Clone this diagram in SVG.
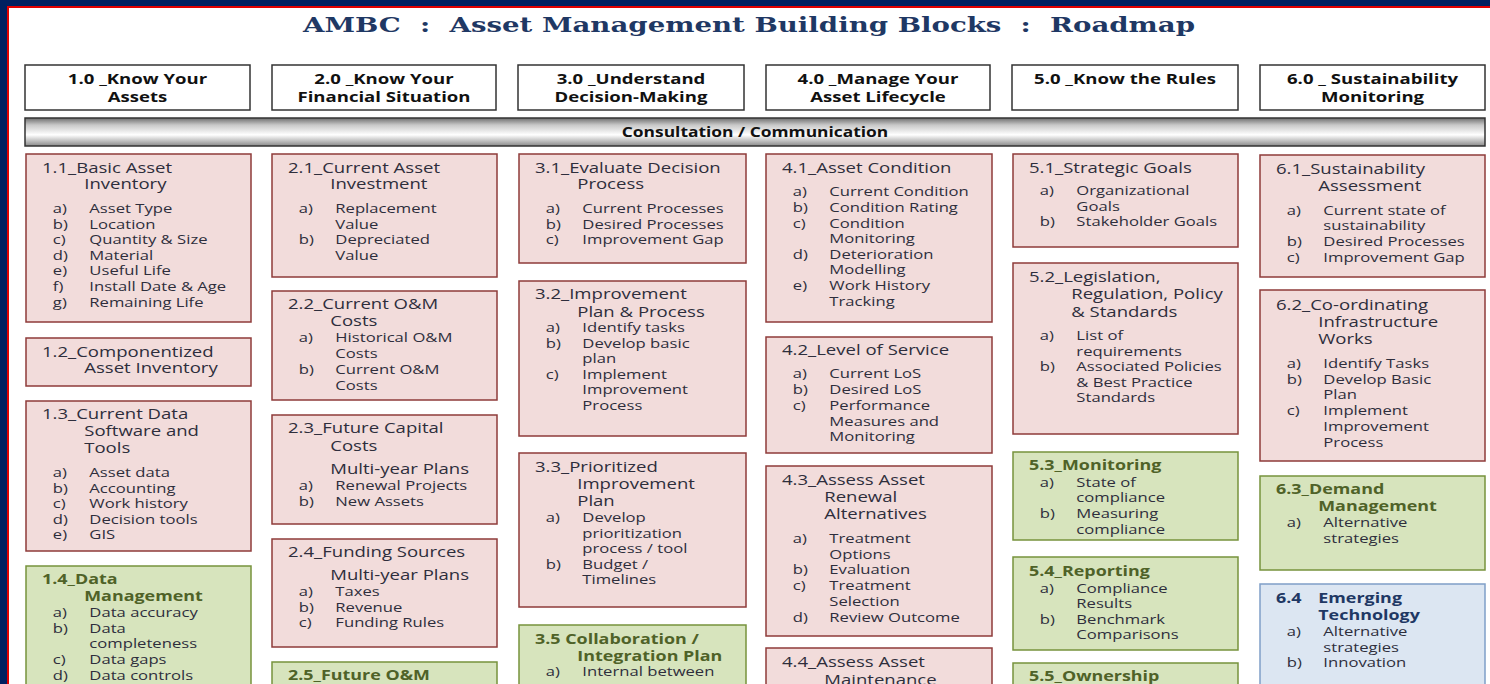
<svg xmlns="http://www.w3.org/2000/svg" width="1490" height="684" viewBox="0 0 1490 684">
<defs>
<linearGradient id="bar" x1="0" y1="0" x2="0" y2="1">
<stop offset="0" stop-color="#6e6e6e"/>
<stop offset="0.25" stop-color="#c8c8c8"/>
<stop offset="0.6" stop-color="#ffffff"/>
<stop offset="1" stop-color="#8a8a8a"/>
</linearGradient>
</defs>
<style>
text{font-family:'Open Sans','Liberation Sans',sans-serif;fill:#2e2e3c}
.title{font-family:'DejaVu Serif','Liberation Serif',serif;font-weight:700;font-size:20px;fill:#1F3864}
.h{font-size:14.5px;font-weight:700;fill:#111;text-anchor:middle}
.ti{font-size:14.5px}
.it{font-size:13px}
.gt{font-size:14px;font-weight:700;fill:#4F6228}
.bt{font-size:14px;font-weight:700;fill:#1F3864}
.pk{fill:#F2DCDB;stroke:#8E3B3A;stroke-width:1.5}
.gr{fill:#D7E4BD;stroke:#77933C;stroke-width:1.5}
.bl{fill:#DCE6F2;stroke:#7F9FC8;stroke-width:1.5}
.hd{fill:#fff;stroke:#333;stroke-width:1.5}
</style>
<rect x="0" y="0" width="1490" height="684" fill="#fff"/>
<rect x="0" y="0" width="1490" height="6" fill="#002060"/>
<rect x="0" y="0" width="7" height="684" fill="#002060"/>
<path d="M8 684V7H1490" fill="none" stroke="#e00000" stroke-width="2"/>
<text class="title" x="303" y="32" textLength="892" lengthAdjust="spacingAndGlyphs" xml:space="preserve">AMBC  :  Asset Management Building Blocks  :  Roadmap</text>

<g id="h1"><rect class="hd" x="25" y="65" width="225" height="45"/><g transform="translate(137.5 0) scale(1.28 1)"><text class="h" x="0" y="84">1.0 _Know Your</text><text class="h" x="0" y="102">Assets</text></g></g>
<g id="h2"><rect class="hd" x="272" y="65" width="224" height="45"/><g transform="translate(384 0) scale(1.28 1)"><text class="h" x="0" y="84">2.0 _Know Your</text><text class="h" x="0" y="102">Financial Situation</text></g></g>
<g id="h3"><rect class="hd" x="518" y="65" width="226" height="45"/><g transform="translate(631 0) scale(1.28 1)"><text class="h" x="0" y="84">3.0 _Understand</text><text class="h" x="0" y="102">Decision-Making</text></g></g>
<g id="h4"><rect class="hd" x="766" y="65" width="224" height="45"/><g transform="translate(878 0) scale(1.28 1)"><text class="h" x="0" y="84">4.0 _Manage Your</text><text class="h" x="0" y="102">Asset Lifecycle</text></g></g>
<g id="h5"><rect class="hd" x="1012" y="65" width="226" height="45"/><g transform="translate(1125 0) scale(1.28 1)"><text class="h" x="0" y="84">5.0 _Know the Rules</text></g></g>
<g id="h6"><rect class="hd" x="1260" y="65" width="225" height="45"/><g transform="translate(1372.5 0) scale(1.28 1)"><text class="h" x="0" y="84">6.0 _ Sustainability</text><text class="h" x="0" y="102">Monitoring</text></g></g>

<g id="consult"><rect x="25" y="118" width="1460" height="28" fill="url(#bar)" stroke="#333" stroke-width="1.5"/><g transform="translate(755 0) scale(1.2 1)"><text class="h" x="0" y="137">Consultation / Communication</text></g></g>

<g id="n11"><rect class="pk" x="26" y="154" width="225" height="168"/><g transform="translate(26 0) scale(1.28 1)">
<text class="ti" x="12.5" y="173">1.1_Basic Asset</text><text class="ti" x="45.5" y="189">Inventory</text>
<text class="it" y="213"><tspan x="21">a)</tspan><tspan x="49.5">Asset Type</tspan></text>
<text class="it" y="229"><tspan x="21">b)</tspan><tspan x="49.5">Location</tspan></text>
<text class="it" y="244"><tspan x="21">c)</tspan><tspan x="49.5">Quantity &amp; Size</tspan></text>
<text class="it" y="260"><tspan x="21">d)</tspan><tspan x="49.5">Material</tspan></text>
<text class="it" y="275"><tspan x="21">e)</tspan><tspan x="49.5">Useful Life</tspan></text>
<text class="it" y="291"><tspan x="21">f)</tspan><tspan x="49.5">Install Date &amp; Age</tspan></text>
<text class="it" y="307"><tspan x="21">g)</tspan><tspan x="49.5">Remaining Life</tspan></text>
</g></g>
<g id="n12"><rect class="pk" x="26" y="338" width="225" height="48"/><g transform="translate(26 0) scale(1.28 1)">
<text class="ti" x="12.5" y="357">1.2_Componentized</text><text class="ti" x="45.5" y="373">Asset Inventory</text>
</g></g>
<g id="n13"><rect class="pk" x="26" y="401" width="225" height="150"/><g transform="translate(26 0) scale(1.28 1)">
<text class="ti" x="12.5" y="419">1.3_Current Data</text><text class="ti" x="45.5" y="436">Software and</text><text class="ti" x="45.5" y="453">Tools</text>
<text class="it" y="477"><tspan x="21">a)</tspan><tspan x="49.5">Asset data</tspan></text>
<text class="it" y="493"><tspan x="21">b)</tspan><tspan x="49.5">Accounting</tspan></text>
<text class="it" y="508"><tspan x="21">c)</tspan><tspan x="49.5">Work history</tspan></text>
<text class="it" y="524"><tspan x="21">d)</tspan><tspan x="49.5">Decision tools</tspan></text>
<text class="it" y="539"><tspan x="21">e)</tspan><tspan x="49.5">GIS</tspan></text>
</g></g>
<g id="n14"><rect class="gr" x="26" y="566" width="225" height="130"/><g transform="translate(26 0) scale(1.28 1)">
<text class="gt" x="12.5" y="584">1.4_Data</text><text class="gt" x="45.5" y="601">Management</text>
<text class="it" y="617"><tspan x="21">a)</tspan><tspan x="49.5">Data accuracy</tspan></text>
<text class="it" y="633"><tspan x="21">b)</tspan><tspan x="49.5">Data</tspan></text>
<text class="it" x="49.5" y="648">completeness</text>
<text class="it" y="664"><tspan x="21">c)</tspan><tspan x="49.5">Data gaps</tspan></text>
<text class="it" y="680"><tspan x="21">d)</tspan><tspan x="49.5">Data controls</tspan></text>
</g></g>

<g id="n21"><rect class="pk" x="272" y="154" width="225" height="123"/><g transform="translate(272 0) scale(1.28 1)">
<text class="ti" x="12.5" y="173">2.1_Current Asset</text><text class="ti" x="45.5" y="189">Investment</text>
<text class="it" y="213"><tspan x="21">a)</tspan><tspan x="49.5">Replacement</tspan></text>
<text class="it" x="49.5" y="229">Value</text>
<text class="it" y="244"><tspan x="21">b)</tspan><tspan x="49.5">Depreciated</tspan></text>
<text class="it" x="49.5" y="260">Value</text>
</g></g>
<g id="n22"><rect class="pk" x="272" y="291" width="225" height="109"/><g transform="translate(272 0) scale(1.28 1)">
<text class="ti" x="12.5" y="309">2.2_Current O&amp;M</text><text class="ti" x="45.5" y="326">Costs</text>
<text class="it" y="342"><tspan x="21">a)</tspan><tspan x="49.5">Historical O&amp;M</tspan></text>
<text class="it" x="49.5" y="358">Costs</text>
<text class="it" y="374"><tspan x="21">b)</tspan><tspan x="49.5">Current O&amp;M</tspan></text>
<text class="it" x="49.5" y="390">Costs</text>
</g></g>
<g id="n23"><rect class="pk" x="272" y="415" width="225" height="109"/><g transform="translate(272 0) scale(1.28 1)">
<text class="ti" x="12.5" y="433">2.3_Future Capital</text><text class="ti" x="45.5" y="451">Costs</text>
<text class="ti" x="45.5" y="474">Multi-year Plans</text>
<text class="it" y="490"><tspan x="21">a)</tspan><tspan x="49.5">Renewal Projects</tspan></text>
<text class="it" y="506"><tspan x="21">b)</tspan><tspan x="49.5">New Assets</tspan></text>
</g></g>
<g id="n24"><rect class="pk" x="272" y="539" width="225" height="108"/><g transform="translate(272 0) scale(1.28 1)">
<text class="ti" x="12.5" y="557">2.4_Funding Sources</text>
<text class="ti" x="45.5" y="580">Multi-year Plans</text>
<text class="it" y="596"><tspan x="21">a)</tspan><tspan x="49.5">Taxes</tspan></text>
<text class="it" y="612"><tspan x="21">b)</tspan><tspan x="49.5">Revenue</tspan></text>
<text class="it" y="627"><tspan x="21">c)</tspan><tspan x="49.5">Funding Rules</tspan></text>
</g></g>
<g id="n25"><rect class="gr" x="272" y="662" width="225" height="40"/><g transform="translate(272 0) scale(1.28 1)">
<text class="gt" x="12.5" y="680">2.5_Future O&amp;M</text>
</g></g>

<g id="n31"><rect class="pk" x="519" y="154" width="227" height="109"/><g transform="translate(519 0) scale(1.28 1)">
<text class="ti" x="12.5" y="173">3.1_Evaluate Decision</text><text class="ti" x="45.5" y="189">Process</text>
<text class="it" y="213"><tspan x="21">a)</tspan><tspan x="49.5">Current Processes</tspan></text>
<text class="it" y="229"><tspan x="21">b)</tspan><tspan x="49.5">Desired Processes</tspan></text>
<text class="it" y="244"><tspan x="21">c)</tspan><tspan x="49.5">Improvement Gap</tspan></text>
</g></g>
<g id="n32"><rect class="pk" x="519" y="281" width="227" height="155"/><g transform="translate(519 0) scale(1.28 1)">
<text class="ti" x="12.5" y="299">3.2_Improvement</text><text class="ti" x="45.5" y="317">Plan &amp; Process</text>
<text class="it" y="332"><tspan x="21">a)</tspan><tspan x="49.5">Identify tasks</tspan></text>
<text class="it" y="348"><tspan x="21">b)</tspan><tspan x="49.5">Develop basic</tspan></text>
<text class="it" x="49.5" y="363">plan</text>
<text class="it" y="379"><tspan x="21">c)</tspan><tspan x="49.5">Implement</tspan></text>
<text class="it" x="49.5" y="394">Improvement</text>
<text class="it" x="49.5" y="410">Process</text>
</g></g>
<g id="n33"><rect class="pk" x="519" y="453" width="227" height="154"/><g transform="translate(519 0) scale(1.28 1)">
<text class="ti" x="12.5" y="472">3.3_Prioritized</text><text class="ti" x="45.5" y="489">Improvement</text><text class="ti" x="45.5" y="506">Plan</text>
<text class="it" y="522"><tspan x="21">a)</tspan><tspan x="49.5">Develop</tspan></text>
<text class="it" x="49.5" y="538">prioritization</text>
<text class="it" x="49.5" y="553">process / tool</text>
<text class="it" y="569"><tspan x="21">b)</tspan><tspan x="49.5">Budget /</tspan></text>
<text class="it" x="49.5" y="584">Timelines</text>
</g></g>
<g id="n35"><rect class="gr" x="519" y="625" width="227" height="70"/><g transform="translate(519 0) scale(1.28 1)">
<text class="gt" x="12.5" y="644">3.5 Collaboration /</text><text class="gt" x="45.5" y="661">Integration Plan</text>
<text class="it" y="676"><tspan x="21">a)</tspan><tspan x="49.5">Internal between</tspan></text>
</g></g>

<g id="n41"><rect class="pk" x="766" y="154" width="226" height="168"/><g transform="translate(766 0) scale(1.28 1)">
<text class="ti" x="12.5" y="173">4.1_Asset Condition</text>
<text class="it" y="196"><tspan x="21">a)</tspan><tspan x="49.5">Current Condition</tspan></text>
<text class="it" y="212"><tspan x="21">b)</tspan><tspan x="49.5">Condition Rating</tspan></text>
<text class="it" y="228"><tspan x="21">c)</tspan><tspan x="49.5">Condition</tspan></text>
<text class="it" x="49.5" y="243">Monitoring</text>
<text class="it" y="259"><tspan x="21">d)</tspan><tspan x="49.5">Deterioration</tspan></text>
<text class="it" x="49.5" y="274">Modelling</text>
<text class="it" y="290"><tspan x="21">e)</tspan><tspan x="49.5">Work History</tspan></text>
<text class="it" x="49.5" y="306">Tracking</text>
</g></g>
<g id="n42"><rect class="pk" x="766" y="337" width="226" height="116"/><g transform="translate(766 0) scale(1.28 1)">
<text class="ti" x="12.5" y="355">4.2_Level of Service</text>
<text class="it" y="378"><tspan x="21">a)</tspan><tspan x="49.5">Current LoS</tspan></text>
<text class="it" y="394"><tspan x="21">b)</tspan><tspan x="49.5">Desired LoS</tspan></text>
<text class="it" y="410"><tspan x="21">c)</tspan><tspan x="49.5">Performance</tspan></text>
<text class="it" x="49.5" y="426">Measures and</text>
<text class="it" x="49.5" y="441">Monitoring</text>
</g></g>
<g id="n43"><rect class="pk" x="766" y="466" width="226" height="170"/><g transform="translate(766 0) scale(1.28 1)">
<text class="ti" x="12.5" y="485">4.3_Assess Asset</text><text class="ti" x="45.5" y="502">Renewal</text><text class="ti" x="45.5" y="519">Alternatives</text>
<text class="it" y="543"><tspan x="21">a)</tspan><tspan x="49.5">Treatment</tspan></text>
<text class="it" x="49.5" y="559">Options</text>
<text class="it" y="574"><tspan x="21">b)</tspan><tspan x="49.5">Evaluation</tspan></text>
<text class="it" y="590"><tspan x="21">c)</tspan><tspan x="49.5">Treatment</tspan></text>
<text class="it" x="49.5" y="606">Selection</text>
<text class="it" y="622"><tspan x="21">d)</tspan><tspan x="49.5">Review Outcome</tspan></text>
</g></g>
<g id="n44"><rect class="pk" x="766" y="648" width="226" height="50"/><g transform="translate(766 0) scale(1.28 1)">
<text class="ti" x="12.5" y="667">4.4_Assess Asset</text><text class="ti" x="45.5" y="685">Maintenance</text>
</g></g>

<g id="n51"><rect class="pk" x="1013" y="154" width="225" height="93"/><g transform="translate(1013 0) scale(1.28 1)">
<text class="ti" x="12.5" y="173">5.1_Strategic Goals</text>
<text class="it" y="195"><tspan x="21">a)</tspan><tspan x="49.5">Organizational</tspan></text>
<text class="it" x="49.5" y="211">Goals</text>
<text class="it" y="226"><tspan x="21">b)</tspan><tspan x="49.5">Stakeholder Goals</tspan></text>
</g></g>
<g id="n52"><rect class="pk" x="1013" y="263" width="225" height="171"/><g transform="translate(1013 0) scale(1.28 1)">
<text class="ti" x="12.5" y="282">5.2_Legislation,</text><text class="ti" x="45.5" y="299">Regulation, Policy</text><text class="ti" x="45.5" y="317">&amp; Standards</text>
<text class="it" y="340"><tspan x="21">a)</tspan><tspan x="49.5">List of</tspan></text>
<text class="it" x="49.5" y="356">requirements</text>
<text class="it" y="371"><tspan x="21">b)</tspan><tspan x="49.5">Associated Policies</tspan></text>
<text class="it" x="49.5" y="387">&amp; Best Practice</text>
<text class="it" x="49.5" y="402">Standards</text>
</g></g>
<g id="n53"><rect class="gr" x="1013" y="452" width="225" height="88"/><g transform="translate(1013 0) scale(1.28 1)">
<text class="gt" x="12.5" y="470">5.3_Monitoring</text>
<text class="it" y="487"><tspan x="21">a)</tspan><tspan x="49.5">State of</tspan></text>
<text class="it" x="49.5" y="502">compliance</text>
<text class="it" y="518"><tspan x="21">b)</tspan><tspan x="49.5">Measuring</tspan></text>
<text class="it" x="49.5" y="534">compliance</text>
</g></g>
<g id="n54"><rect class="gr" x="1013" y="557" width="225" height="93"/><g transform="translate(1013 0) scale(1.28 1)">
<text class="gt" x="12.5" y="576">5.4_Reporting</text>
<text class="it" y="593"><tspan x="21">a)</tspan><tspan x="49.5">Compliance</tspan></text>
<text class="it" x="49.5" y="608">Results</text>
<text class="it" y="624"><tspan x="21">b)</tspan><tspan x="49.5">Benchmark</tspan></text>
<text class="it" x="49.5" y="639">Comparisons</text>
</g></g>
<g id="n55"><rect class="gr" x="1013" y="663" width="225" height="40"/><g transform="translate(1013 0) scale(1.28 1)">
<text class="gt" x="12.5" y="681">5.5_Ownership</text>
</g></g>

<g id="n61"><rect class="pk" x="1260" y="155" width="225" height="122"/><g transform="translate(1260 0) scale(1.28 1)">
<text class="ti" x="12.5" y="174">6.1_Sustainability</text><text class="ti" x="45.5" y="191">Assessment</text>
<text class="it" y="215"><tspan x="21">a)</tspan><tspan x="49.5">Current  state of</tspan></text>
<text class="it" x="49.5" y="230">sustainability</text>
<text class="it" y="246"><tspan x="21">b)</tspan><tspan x="49.5">Desired Processes</tspan></text>
<text class="it" y="262"><tspan x="21">c)</tspan><tspan x="49.5">Improvement Gap</tspan></text>
</g></g>
<g id="n62"><rect class="pk" x="1260" y="290" width="225" height="171"/><g transform="translate(1260 0) scale(1.28 1)">
<text class="ti" x="12.5" y="310">6.2_Co-ordinating</text><text class="ti" x="45.5" y="327">Infrastructure</text><text class="ti" x="45.5" y="344">Works</text>
<text class="it" y="368"><tspan x="21">a)</tspan><tspan x="49.5">Identify Tasks</tspan></text>
<text class="it" y="384"><tspan x="21">b)</tspan><tspan x="49.5">Develop Basic</tspan></text>
<text class="it" x="49.5" y="399">Plan</text>
<text class="it" y="415"><tspan x="21">c)</tspan><tspan x="49.5">Implement</tspan></text>
<text class="it" x="49.5" y="431">Improvement</text>
<text class="it" x="49.5" y="447">Process</text>
</g></g>
<g id="n63"><rect class="gr" x="1260" y="476" width="225" height="94"/><g transform="translate(1260 0) scale(1.28 1)">
<text class="gt" x="12.5" y="494">6.3_Demand</text><text class="gt" x="45.5" y="511">Management</text>
<text class="it" y="527"><tspan x="21">a)</tspan><tspan x="49.5">Alternative</tspan></text>
<text class="it" x="49.5" y="543">strategies</text>
</g></g>
<g id="n64"><rect class="bl" x="1260" y="584" width="225" height="110"/><g transform="translate(1260 0) scale(1.28 1)">
<text class="bt" y="603"><tspan x="12.5">6.4</tspan><tspan x="45.5">Emerging</tspan></text><text class="bt" x="45.5" y="620">Technology</text>
<text class="it" y="636"><tspan x="21">a)</tspan><tspan x="49.5">Alternative</tspan></text>
<text class="it" x="49.5" y="652">strategies</text>
<text class="it" y="667"><tspan x="21">b)</tspan><tspan x="49.5">Innovation</tspan></text>
</g></g>
<g id="connectors"/>
</svg>
